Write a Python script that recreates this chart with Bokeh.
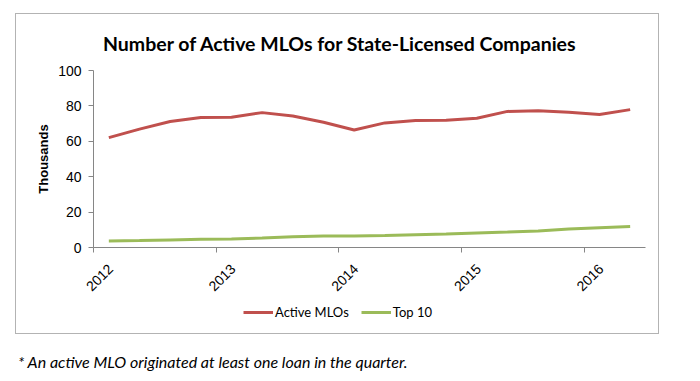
import math
from bokeh.plotting import figure
from bokeh.models import (Legend, LegendItem, Div, FixedTicker, Range1d, ColumnDataSource,
                          LinearAxis, Title, Spacer)
from bokeh.layouts import column, row
from bokeh.embed import file_html
from bokeh.resources import INLINE

quarters = ["2012Q1", "2012Q2", "2012Q3", "2012Q4",
            "2013Q1", "2013Q2", "2013Q3", "2013Q4",
            "2014Q1", "2014Q2", "2014Q3", "2014Q4",
            "2015Q1", "2015Q2", "2015Q3", "2015Q4",
            "2016Q1", "2016Q2"]
active_mlos = [62.1, 66.9, 71.2, 73.4, 73.6, 76.2, 74.3, 70.8, 66.4,
               70.4, 71.7, 71.9, 73.0, 76.9, 77.3, 76.4, 75.1, 77.9]
top_10 = [3.7, 3.9, 4.3, 4.6, 4.8, 5.4, 6.1, 6.5, 6.5,
          6.8, 7.2, 7.6, 8.2, 8.7, 9.3, 10.4, 11.2, 11.9]
year_labels = ["2012", "2013", "2014", "2015", "2016"]
y_ticks = [0, 20, 40, 60, 80, 100]
series_names = ["Active MLOs", "Top 10"]
series_colors = ["#C0504D", "#9BBB59"]

title_text = "Number of Active MLOs for State-Licensed Companies"
footnote_text = "* An active MLO originated at least one loan in the quarter."

# quarter centres on a numeric axis, year boundaries as ticks
xpos = [i + 0.5 for i in range(len(quarters))]
year_ticks = [quarters.index(y + "Q1") for y in year_labels]
label_ticks = [t + 0.55 for t in year_ticks]

src = ColumnDataSource(dict(x=xpos, q=quarters, active=active_mlos, top=top_10))

W, H = 644, 287
ML, MR, MT, MB = 77, 15, 54, 54
BORDER = "1px solid #b3b3b3"

p = figure(width=W, height=H, x_range=Range1d(0, len(quarters)), y_range=Range1d(0, 100),
           output_backend="svg", toolbar_location=None,
           min_border_left=ML, min_border_right=MR, min_border_top=MT, min_border_bottom=MB)
p.styles = {"border": BORDER, "border-bottom": "none"}
p.outline_line_color = None
p.xgrid.visible = False
p.ygrid.visible = False
p.background_fill_color = "white"
p.border_fill_color = "white"

axis_col = "#868686"
num_font = "Liberation Sans"

p.yaxis.ticker = FixedTicker(ticks=y_ticks)
p.yaxis.axis_line_color = axis_col
p.yaxis.major_tick_line_color = axis_col
p.yaxis.major_tick_in = 0
p.yaxis.major_tick_out = 5
p.yaxis.minor_tick_line_color = None
p.yaxis.major_label_text_font = num_font
p.yaxis.major_label_text_font_size = "14px"
p.yaxis.major_label_text_color = "black"
p.yaxis.major_label_standoff = 7
p.yaxis.axis_label = "Thousands"
p.yaxis.axis_label_text_font = num_font
p.yaxis.axis_label_text_font_style = "bold"
p.yaxis.axis_label_text_font_size = "13px"
p.yaxis.axis_label_text_color = "black"
p.yaxis.axis_label_standoff = 4

# axis with ticks at year boundaries, no labels
p.xaxis.ticker = FixedTicker(ticks=year_ticks)
p.xaxis.major_label_overrides = {t: "" for t in year_ticks}
p.xaxis.major_label_text_font_size = "1px"
p.xaxis.major_label_standoff = 0
p.xaxis.axis_line_color = axis_col
p.xaxis.major_tick_line_color = axis_col
p.xaxis.major_tick_in = 0
p.xaxis.major_tick_out = 5
p.xaxis.minor_tick_line_color = None

# second axis carrying the rotated year labels
lab_axis = LinearAxis(ticker=FixedTicker(ticks=label_ticks),
                      major_label_overrides={t: lab for t, lab in zip(label_ticks, year_labels)},
                      major_label_orientation=math.pi / 4,
                      axis_line_color=None, major_tick_line_color=None,
                      minor_tick_line_color=None,
                      major_label_text_font=num_font, major_label_text_font_size="14px",
                      major_label_text_color="black", major_label_standoff=8)
p.add_layout(lab_axis, "below")

p.line("x", "active", source=src, line_color=series_colors[0], line_width=3)
p.line("x", "top", source=src, line_color=series_colors[1], line_width=3)

p.add_layout(Title(text=title_text, align="left", offset=9.5,
                   text_font="Lato", text_font_style="bold", text_font_size="19.5px",
                   text_color="black", standoff=31), "above")

# legend strip (bottom part of the bordered box); its lines lie outside its view
leg = figure(width=W, height=34, x_range=Range1d(-20, -10), y_range=Range1d(-300, -200),
             output_backend="svg", toolbar_location=None, min_border=0)
leg.styles = {"border": BORDER, "border-top": "none"}
leg.axis.visible = False
leg.xgrid.visible = False
leg.ygrid.visible = False
leg.outline_line_color = None
items = []
for name, col, key in zip(series_names, series_colors, ["active", "top"]):
    r = leg.line("x", key, source=src, line_color=col, line_width=3)
    items.append(LegendItem(label=name, renderers=[r]))
legend = Legend(items=items, orientation="horizontal", location=(150, 12),
                margin=0, padding=0, spacing=12, label_standoff=2,
                glyph_width=30, glyph_height=20,
                label_text_font="Lato", label_text_font_size="13px",
                label_text_color="black",
                border_line_color=None, background_fill_alpha=0,
                inactive_fill_alpha=0)
leg.add_layout(legend, "center")

note = Div(text=('<div style="padding-top:20px;padding-left:3px;font-family:Lato;'
                 'font-style:italic;font-size:16px;line-height:16px;color:black;'
                 'white-space:nowrap">' + footnote_text + '</div>'),
           width=600, height=40)
note.margin = 0

layout = row(Spacer(width=15), column(Spacer(height=13), p, leg, note))
open("out.html", "w").write(file_html(layout, INLINE))
